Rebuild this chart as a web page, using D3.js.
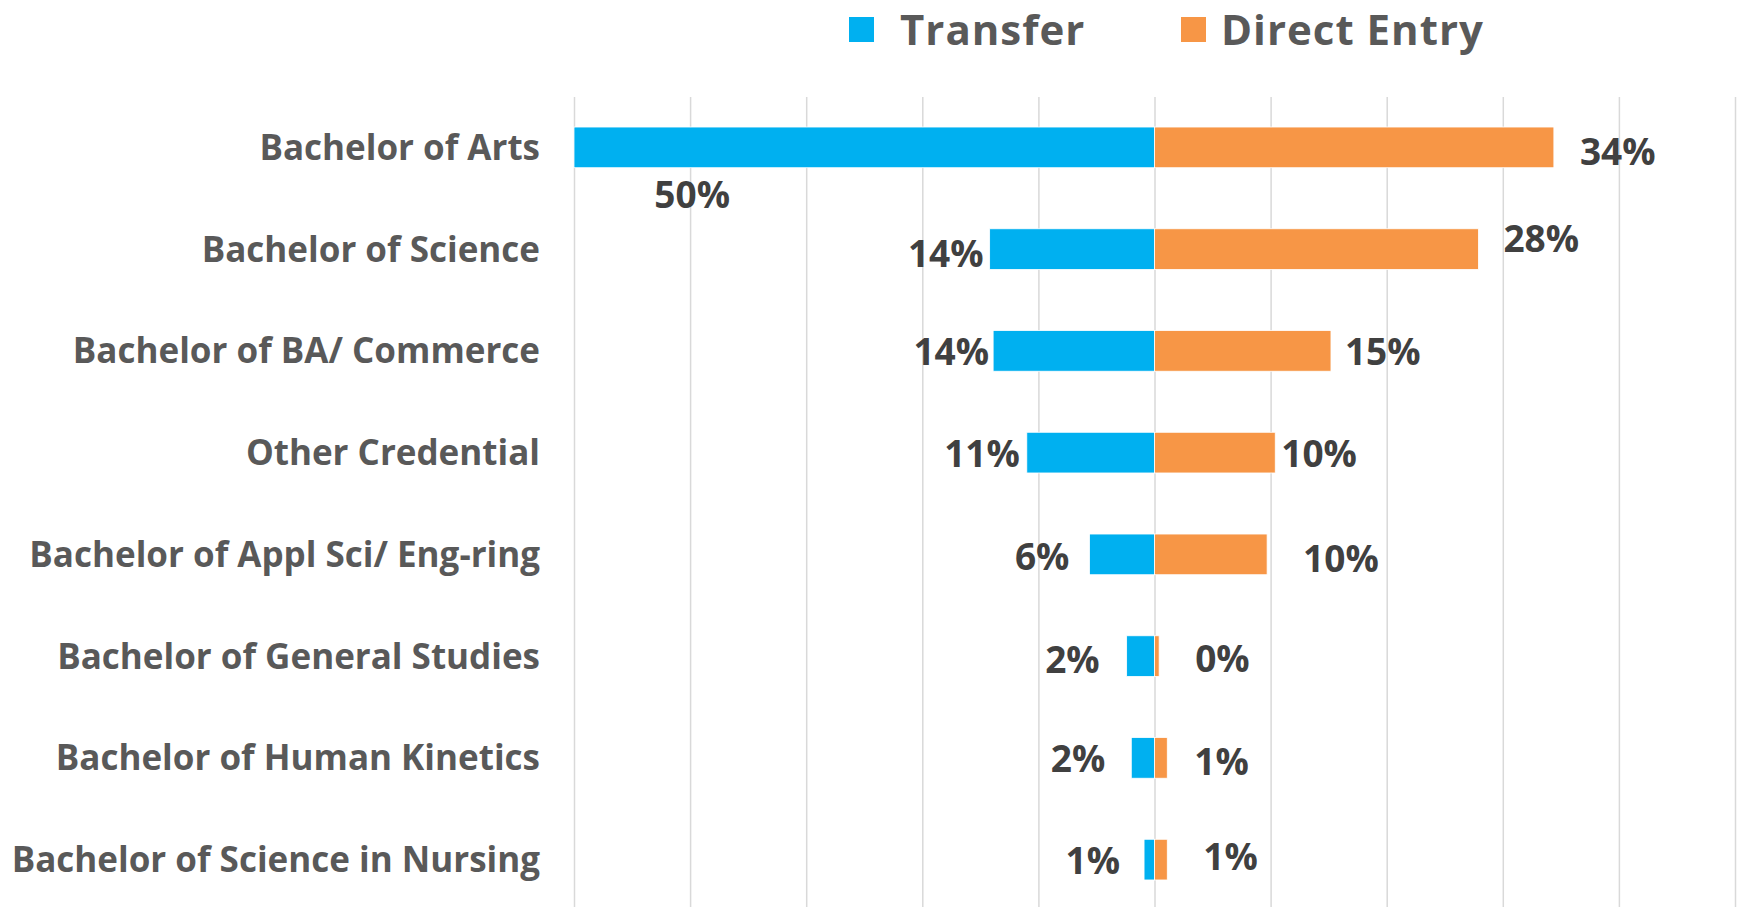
<!DOCTYPE html>
<html>
<head>
<meta charset="utf-8">
<script src="https://cdn.jsdelivr.net/npm/d3@7"></script>
<style>
  body { margin: 0; background: #fff; }
  svg { display: block; font-family: "Open Sans", sans-serif; font-weight: 700; }
</style>
</head>
<body>
<script>
const width = 1741;
const height = 907;

// data, in percent
const programs = [
    "Bachelor of Arts",
    "Bachelor of Science",
    "Bachelor of BA/ Commerce",
    "Other Credential",
    "Bachelor of Appl Sci/ Eng-ring",
    "Bachelor of General Studies",
    "Bachelor of Human Kinetics",
    "Bachelor of Science in Nursing"
];
const transfer = [50, 14.2, 13.9, 11.0, 5.6, 2.4, 2.0, 0.9];
const directEntry = [34.4, 27.9, 15.2, 10.4, 9.7, 0.4, 1.1, 1.1];
const seriesNames = ["Transfer", "Direct Entry"];
const colors = ["#00B0F0", "#F79646"];

// hand-placed label nudges [dx, dy] like in the source sheet
const transferNudge = [[162, 47], [0, 5], [2, 1], [-1, 1], [-14, 2], [-21, 4], [-20, 1], [-18, 1]];
const directNudge = [[20, 4], [19, -10], [8, 1], [0, 1], [30, 4], [30, 3], [21, 4], [30, -3]];

const svg = d3.select("body").append("svg")
    .attr("width", width)
    .attr("height", height);

const x = d3.scaleLinear().domain([-50, 50]).range([574, 1735]);
const y = d3.scaleBand().domain(programs).range([96.5, 910.5]).paddingInner(0.6).paddingOuter(0.3);

// gridlines
svg.append("g")
    .selectAll("line")
    .data(x.ticks(10))
    .join("line")
    .attr("x1", d => x(d) + 0.5)
    .attr("x2", d => x(d) + 0.5)
    .attr("y1", 97)
    .attr("y2", height)
    .attr("stroke", "#D9D9D9")
    .attr("stroke-width", 1.5);

const rows = programs.map((p, i) => ({ program: p, transfer: transfer[i], direct: directEntry[i], i }));

// bars
svg.append("g")
    .selectAll("rect")
    .data(rows)
    .join("rect")
    .attr("x", d => x(-d.transfer))
    .attr("y", d => y(d.program))
    .attr("width", d => x(0) - x(-d.transfer))
    .attr("height", y.bandwidth())
    .attr("fill", colors[0])
    .attr("stroke", "#fff")
    .attr("stroke-width", 0.8);

svg.append("g")
    .selectAll("rect")
    .data(rows)
    .join("rect")
    .attr("x", x(0))
    .attr("y", d => y(d.program))
    .attr("width", d => x(d.direct) - x(0))
    .attr("height", y.bandwidth())
    .attr("fill", colors[1])
    .attr("stroke", "#fff")
    .attr("stroke-width", 0.8);

// category labels
svg.append("g")
    .selectAll("text")
    .data(programs)
    .join("text")
    .attr("x", 540)
    .attr("y", d => y(d) + y.bandwidth() / 2)
    .attr("dy", "0.36em")
    .attr("text-anchor", "end")
    .attr("fill", "#595959")
    .style("font-size", "35px")
    .text(d => d);

// value labels
const fmt = v => Math.round(v) + "%";
svg.append("g")
    .selectAll("text")
    .data(rows)
    .join("text")
    .attr("x", d => x(-d.transfer) - 6 + transferNudge[d.i][0])
    .attr("y", d => y(d.program) + y.bandwidth() / 2 + transferNudge[d.i][1])
    .attr("dy", "0.36em")
    .attr("text-anchor", "end")
    .attr("fill", "#404040")
    .style("font-size", "37px")
    .text(d => fmt(d.transfer));

svg.append("g")
    .selectAll("text")
    .data(rows)
    .join("text")
    .attr("x", d => x(d.direct) + 6 + directNudge[d.i][0])
    .attr("y", d => y(d.program) + y.bandwidth() / 2 + directNudge[d.i][1])
    .attr("dy", "0.36em")
    .attr("text-anchor", "start")
    .attr("fill", "#404040")
    .style("font-size", "37px")
    .text(d => fmt(d.direct));

// legend
const legend = svg.append("g")
    .selectAll("g")
    .data(seriesNames)
    .join("g")
    .attr("transform", (d, i) => `translate(${[849, 1181][i]},17)`);

legend.append("rect")
    .attr("width", 25)
    .attr("height", 25)
    .attr("fill", (d, i) => colors[i]);

legend.append("text")
    .attr("x", (d, i) => [51, 40][i])
    .attr("y", 28)
    .attr("fill", "#595959")
    .attr("letter-spacing", 1)
    .style("font-size", "42px")
    .text(d => d);
</script>
</body>
</html>
